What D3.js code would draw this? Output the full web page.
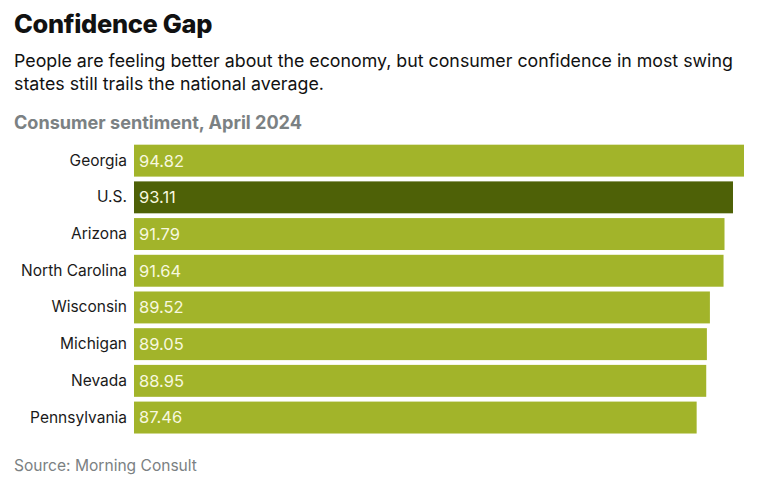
<!DOCTYPE html>
<html><head><meta charset="utf-8">
<script src="https://cdn.jsdelivr.net/npm/d3@7"></script>
<style>body{margin:0;background:#fff;} svg{display:block;}</style>
</head><body>
<svg id="chart" width="760" height="495"></svg>
<script>
const categories = ["Georgia","U.S.","Arizona","North Carolina","Wisconsin","Michigan","Nevada","Pennsylvania"];
const values = [94.82, 93.11, 91.79, 91.64, 89.52, 89.05, 88.95, 87.46];
const highlight = "U.S.";
const titleText = "Confidence Gap";
const subtitleLines = ["People are feeling better about the economy, but consumer confidence in most swing","states still trails the national average."];
const subheadText = "Consumer sentiment, April 2024";
const sourceText = "Source: Morning Consult";

const svg = d3.select("#chart");
const font = "Inter, 'Noto Sans', sans-serif";

function fit(sel, target){
  const w = sel.node().getComputedTextLength();
  const fs = parseFloat(sel.attr("font-size"));
  sel.attr("font-size", (fs*target/w).toFixed(2));
}

const t = svg.append("text").attr("x",14).attr("y",33).attr("font-family",font).attr("font-weight",800)
  .attr("font-size",24).attr("fill","#111").attr("letter-spacing","-0.3").text(titleText);
fit(t,198);
let subFs = null;
subtitleLines.forEach((l,i)=>{
  const s = svg.append("text").attr("x",14).attr("y",67+i*23).attr("font-family",font).attr("font-size",18)
    .attr("fill","#111").text(l);
  if(i===0){ fit(s,719); subFs = s.attr("font-size"); }
  else s.attr("font-size", subFs);
});
const sh = svg.append("text").attr("x",14).attr("y",129).attr("font-family",font).attr("font-weight",700)
  .attr("font-size",17).attr("fill","#7b8183").text(subheadText);
fit(sh,288);

const x = d3.scaleLinear().domain([0, d3.max(values)]).range([134, 744]);
const y = d3.scaleBand().domain(categories).range([142.3, 435.9]).paddingInner(0.13).paddingOuter(0.065);

const data = categories.map((c,i)=>({c, v: values[i]}));
const g = svg.append("g");
g.selectAll("rect").data(data).join("rect")
  .attr("x", x(0)).attr("y", d=>y(d.c)).attr("width", d=>x(d.v)-x(0)).attr("height", y.bandwidth())
  .attr("fill", d=>d.c===highlight ? "#4e6107" : "#a2b42a");
g.selectAll("text.val").data(data).join("text").attr("class","val")
  .attr("x", x(0)+5).attr("y", d=>y(d.c)+y.bandwidth()/2).attr("dy","0.36em")
  .attr("font-family",font).attr("font-size",16.5).attr("fill","#f7f8df").text(d=>d.v.toFixed(2));

const yAxis = d3.axisLeft(y).tickSize(0).tickPadding(7);
const ax = svg.append("g").attr("transform",`translate(${x(0)},0)`).call(yAxis);
ax.select(".domain").remove();
ax.selectAll("text").attr("font-family",font).attr("font-size",15.5).attr("fill","#1a1a1a");

const src = svg.append("text").attr("x",14).attr("y",471).attr("font-family",font).attr("font-size",15)
  .attr("fill","#7b8183").text(sourceText);
fit(src,183);
</script>
</body></html>
